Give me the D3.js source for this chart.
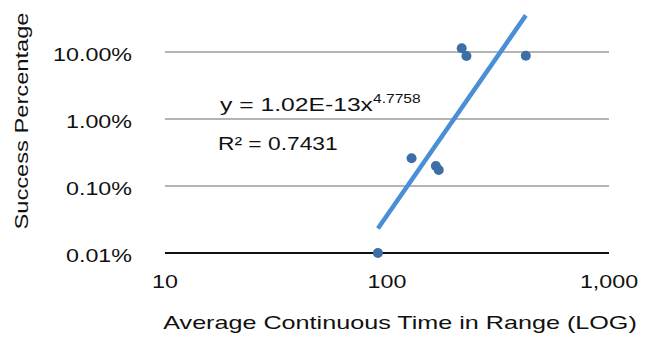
<!DOCTYPE html>
<html>
<head>
<meta charset="utf-8">
<script src="https://cdn.jsdelivr.net/npm/d3@7"></script>
<style>
  html, body { margin: 0; padding: 0; background: #fff; }
  svg text { font-family: "Liberation Sans", Arial, Helvetica, sans-serif; fill: #111; }
</style>
</head>
<body>
<div id="chart"></div>
<script>
// values (success shown in percent)
const timeInRange = [91, 129, 166, 171, 217, 228, 422];
const successPct = [0.01, 0.259, 0.199, 0.173, 11.4, 8.7, 8.8];
const yTicks = [0.01, 0.1, 1, 10];
const xTicks = [10, 100, 1000];
// power trendline shown on the chart: y = a * x^b (y as a fraction)
const trendA = 1.02e-13;
const trendB = 4.7758;
const trendR2 = 0.7431;

const width = 648, height = 341;

const svg = d3.select('#chart')
  .append('svg')
  .attr('width', width)
  .attr('height', height);

const x = d3.scaleLog().domain([10, 1000]).range([165, 609]);
const y = d3.scaleLog().domain([0.01, 10]).range([253, 52]);

// text in the source is drawn stretched sideways
function label(g, tx, ty, txt, size, sx, anchor, rot) {
  return g.append('text')
    .attr('transform', `translate(${tx},${ty})` + (rot ? ` rotate(${rot})` : '') + ` scale(${sx},1)`)
    .attr('text-anchor', anchor)
    .style('font-size', size + 'px')
    .text(txt);
}

// gridlines
svg.append('g')
  .selectAll('line')
  .data(yTicks.filter(d => d !== 0.01))
  .join('line')
  .attr('x1', x.range()[0])
  .attr('x2', x.range()[1])
  .attr('y1', d => y(d))
  .attr('y2', d => y(d))
  .attr('stroke', '#b4b4b4')
  .attr('stroke-width', 2);

// bottom axis line
svg.append('line')
  .attr('x1', x.range()[0])
  .attr('x2', x.range()[1])
  .attr('y1', y(0.01))
  .attr('y2', y(0.01))
  .attr('stroke', '#111')
  .attr('stroke-width', 2);

// tick labels
const yFmt = d3.format('.2f');
yTicks.forEach(d => {
  label(svg, 132, y(d) + 8.5, yFmt(d) + '%', 17.5, 1.33, 'end');
});
const xFmt = d3.format(',');
xTicks.forEach(d => {
  label(svg, x(d), 288, xFmt(d), 17.5, 1.33, 'middle');
});

// axis titles
label(svg, 400, 329, 'Average Continuous Time in Range (LOG)', 18.5, 1.36, 'middle');
label(svg, 28, 121, 'Success Percentage', 18.5, 1.28, 'middle', -90);

// trendline
const xExt = d3.extent(timeInRange);
const trend = xExt.map(v => [v, trendA * Math.pow(v, trendB) * 100]);
svg.append('path')
  .datum(trend)
  .attr('d', d3.line().x(d => x(d[0])).y(d => y(d[1])))
  .attr('fill', 'none')
  .attr('stroke', '#4a8fd5')
  .attr('stroke-width', 4.5);

// points
svg.append('g')
  .selectAll('circle')
  .data(timeInRange.map((v, i) => [v, successPct[i]]))
  .join('circle')
  .attr('cx', d => x(d[0]))
  .attr('cy', d => y(d[1]))
  .attr('r', 5)
  .attr('fill', '#3d6ea6');

// equation labels
const eq = svg.append('text')
  .attr('transform', 'translate(220,111) scale(1.3,1)')
  .style('font-size', '19px');
eq.append('tspan').text('y = ' + d3.format('.2f')(trendA / 1e-13) + 'E-13x');
eq.append('tspan').attr('dy', -8).style('font-size', '12px').text(trendB);
label(svg, 218, 150, 'R² = ' + trendR2, 19, 1.2, 'start');
</script>
</body>
</html>
